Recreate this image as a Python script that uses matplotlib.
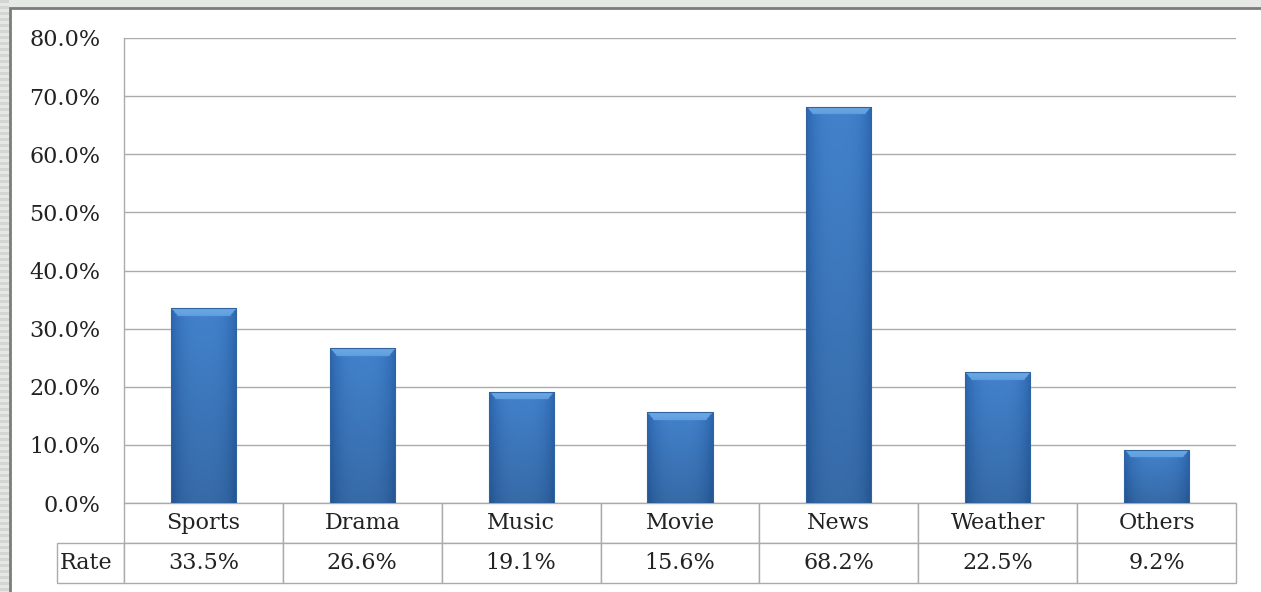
import numpy as np
import matplotlib
matplotlib.use("Agg")
from matplotlib import pyplot as plt
from matplotlib.patches import Rectangle

categories = ['Sports', 'Drama', 'Music', 'Movie', 'News', 'Weather', 'Others']
rates = [33.5, 26.6, 19.1, 15.6, 68.2, 22.5, 9.2]
rate_labels = ['33.5%', '26.6%', '19.1%', '15.6%', '68.2%', '22.5%', '9.2%']
yticks = [0, 10, 20, 30, 40, 50, 60, 70, 80]

W, H = 1261, 592
fig = plt.figure(figsize=(W / 100, H / 100), dpi=100)
fig.patch.set_facecolor('white')

# light striped backdrop at the left and top, with the dark frame line
bg = fig.add_axes([0, 0, 1, 1], zorder=-5)
bg.set_xlim(0, W)
bg.set_ylim(H, 0)
bg.axis('off')
bg.add_patch(Rectangle((0, 0), W, H, color='#e6e8e6'))
for yy in range(0, H, 6):
    bg.add_patch(Rectangle((0, yy), 9, 3, color='#d4d6d4', lw=0))
bg.add_patch(Rectangle((10, 8), W, H, facecolor='white', edgecolor='#7c7c7c', lw=2))

ax = fig.add_axes([124 / W, (H - 503) / H, 1112 / W, 465 / H])
ax.set_xlim(-0.5, len(categories) - 0.5)
ax.set_ylim(0, 80)
ax.set_yticks(yticks)
ax.set_yticklabels(['%.1f%%' % v for v in yticks], family='DejaVu Serif',
                   fontsize=16, color='#222222')
ax.tick_params(axis='y', length=0, pad=17)
ax.tick_params(axis='x', bottom=False, labelbottom=False)
ax.grid(axis='y', color='#ababab', lw=1.0)
ax.set_axisbelow(True)
for s in ['top', 'right', 'bottom']:
    ax.spines[s].set_visible(False)
ax.spines['left'].set_color('#ababab')
ax.spines['left'].set_linewidth(1.0)

bars = ax.bar(range(len(categories)), rates, width=0.41, color='#3d7cc4',
              edgecolor='none', zorder=3)

# bevelled gradient fill per bar
center = np.array([0.26, 0.51, 0.80])
edge = np.array([0.17, 0.40, 0.69])
top = np.array([0.42, 0.66, 0.90])
for b in bars:
    x0, w, h = b.get_x(), b.get_width(), b.get_height()
    ny, nx = max(int(h * 8), 20), 80
    u = np.linspace(0, 1, nx)[None, :]
    v = np.linspace(0, h, ny)[:, None]
    t = np.abs(u - 0.5) * 2
    img = center[None, None, :] * (1 - t[..., None] ** 3) + edge * t[..., None] ** 3
    img = np.broadcast_to(img, (ny, nx, 3)).copy()
    img *= (0.82 + 0.18 * (v / h))[..., None]
    dtop = h - v  # distance from top in data units
    bev = 1.3
    side = np.minimum(u, 1 - u) / 0.1 * bev
    mask = (dtop < bev) & (dtop < side)
    shade = np.broadcast_to(1.0 - 0.25 * (dtop / bev), mask.shape)
    img[mask] = top * shade[mask][:, None] + (1 - shade[mask][:, None]) * center
    im = ax.imshow(img, extent=(x0, x0 + w, 0, h), origin='lower',
                   aspect='auto', zorder=4, interpolation='bilinear')
    im.set_clip_path(b)
    ax.add_patch(Rectangle((x0, 0), w, h, fill=False, edgecolor='#2f649f',
                           lw=0.8, zorder=5))

# data table under the axis: blank corner + categories, then Rate row
label_w = 67
col_w = 1112 / len(categories)
tbl = ax.table(cellText=[[''] + categories, ['Rate'] + rate_labels],
               cellLoc='center',
               colWidths=[label_w] + [col_w] * len(categories),
               bbox=[-label_w / 1112, -80 / 465, 1 + label_w / 1112, 80 / 465])
tbl.auto_set_font_size(False)
for (r, c), cell in tbl.get_celld().items():
    cell.set_edgecolor('#ababab')
    cell.set_linewidth(1.0)
    txt = cell.get_text()
    txt.set_fontfamily('DejaVu Serif')
    txt.set_fontsize(16)
    txt.set_color('#222222')
    if (r, c) == (0, 0):
        cell.visible_edges = ''
    if c == 0:
        cell.PAD = 0.04
        cell._loc = 'left'
        txt.set_ha('left')

fig.savefig('out.png', dpi=100)
